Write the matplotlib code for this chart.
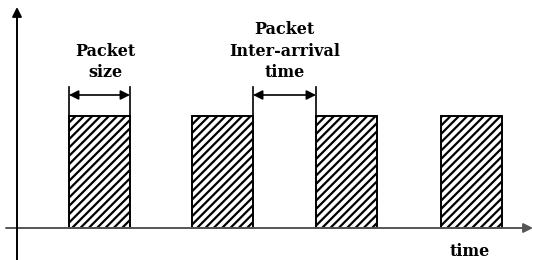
import matplotlib
matplotlib.use('Agg')
import matplotlib.pyplot as plt
from matplotlib.patches import Rectangle

# packet arrivals (time units from the origin) and packet length
packet_start = [52, 175, 299, 424]
packet_size = 61
packet_height = 112

# dimension annotations
size_label = 'Packet\nsize'
gap_label = 'Packet\nInter-arrival\ntime'
xlabel = 'time'

plt.rcParams['hatch.linewidth'] = 1.6
plt.rcParams['font.family'] = 'DejaVu Serif'

fig = plt.figure(figsize=(5.33, 2.6), dpi=100)
ax = fig.add_axes([0, 0, 1, 1])
ax.set_xlim(-17, 516)
ax.set_ylim(-32, 228)
ax.axis('off')

# axes with arrow heads
ax.annotate('', xy=(516, 0), xytext=(-11, 0),
            arrowprops=dict(arrowstyle='-|>', color='#555555', lw=1.4,
                            mutation_scale=14, shrinkA=0, shrinkB=0))
ax.annotate('', xy=(0, 221), xytext=(0, -32),
            arrowprops=dict(arrowstyle='-|>', color='black', lw=1.4,
                            mutation_scale=14, shrinkA=0, shrinkB=0))

for s in packet_start:
    ax.add_patch(Rectangle((s, 0), packet_size, packet_height, facecolor='white',
                           edgecolor='black', hatch='////', lw=1.4))

# packet size marker
y_dim = 133
x0 = packet_start[0]
x1 = packet_start[0] + packet_size
for x in (x0, x1):
    ax.plot([x, x], [packet_height, 141], color='black', lw=1.2)
ax.annotate('', xy=(x1, y_dim), xytext=(x0, y_dim),
            arrowprops=dict(arrowstyle='<|-|>', color='black', lw=1.2,
                            mutation_scale=14, shrinkA=0, shrinkB=0))
ax.text((x0 + x1) / 2 + 6, 166, size_label, ha='center', va='center',
        fontsize=11.5, fontweight='bold', linespacing=1.35)

# inter-arrival marker
g0 = packet_start[1] + packet_size
g1 = packet_start[2]
for x in (g0, g1):
    ax.plot([x, x], [packet_height, 141], color='black', lw=1.2)
ax.annotate('', xy=(g1, y_dim), xytext=(g0, y_dim),
            arrowprops=dict(arrowstyle='<|-|>', color='black', lw=1.2,
                            mutation_scale=14, shrinkA=0, shrinkB=0))
ax.text((g0 + g1) / 2, 177, gap_label, ha='center', va='center',
        fontsize=11.5, fontweight='bold', linespacing=1.35)

ax.text(453, -24, xlabel, ha='center', va='center', fontsize=11.5,
        fontweight='bold')

fig.savefig('out.png', dpi=100)
